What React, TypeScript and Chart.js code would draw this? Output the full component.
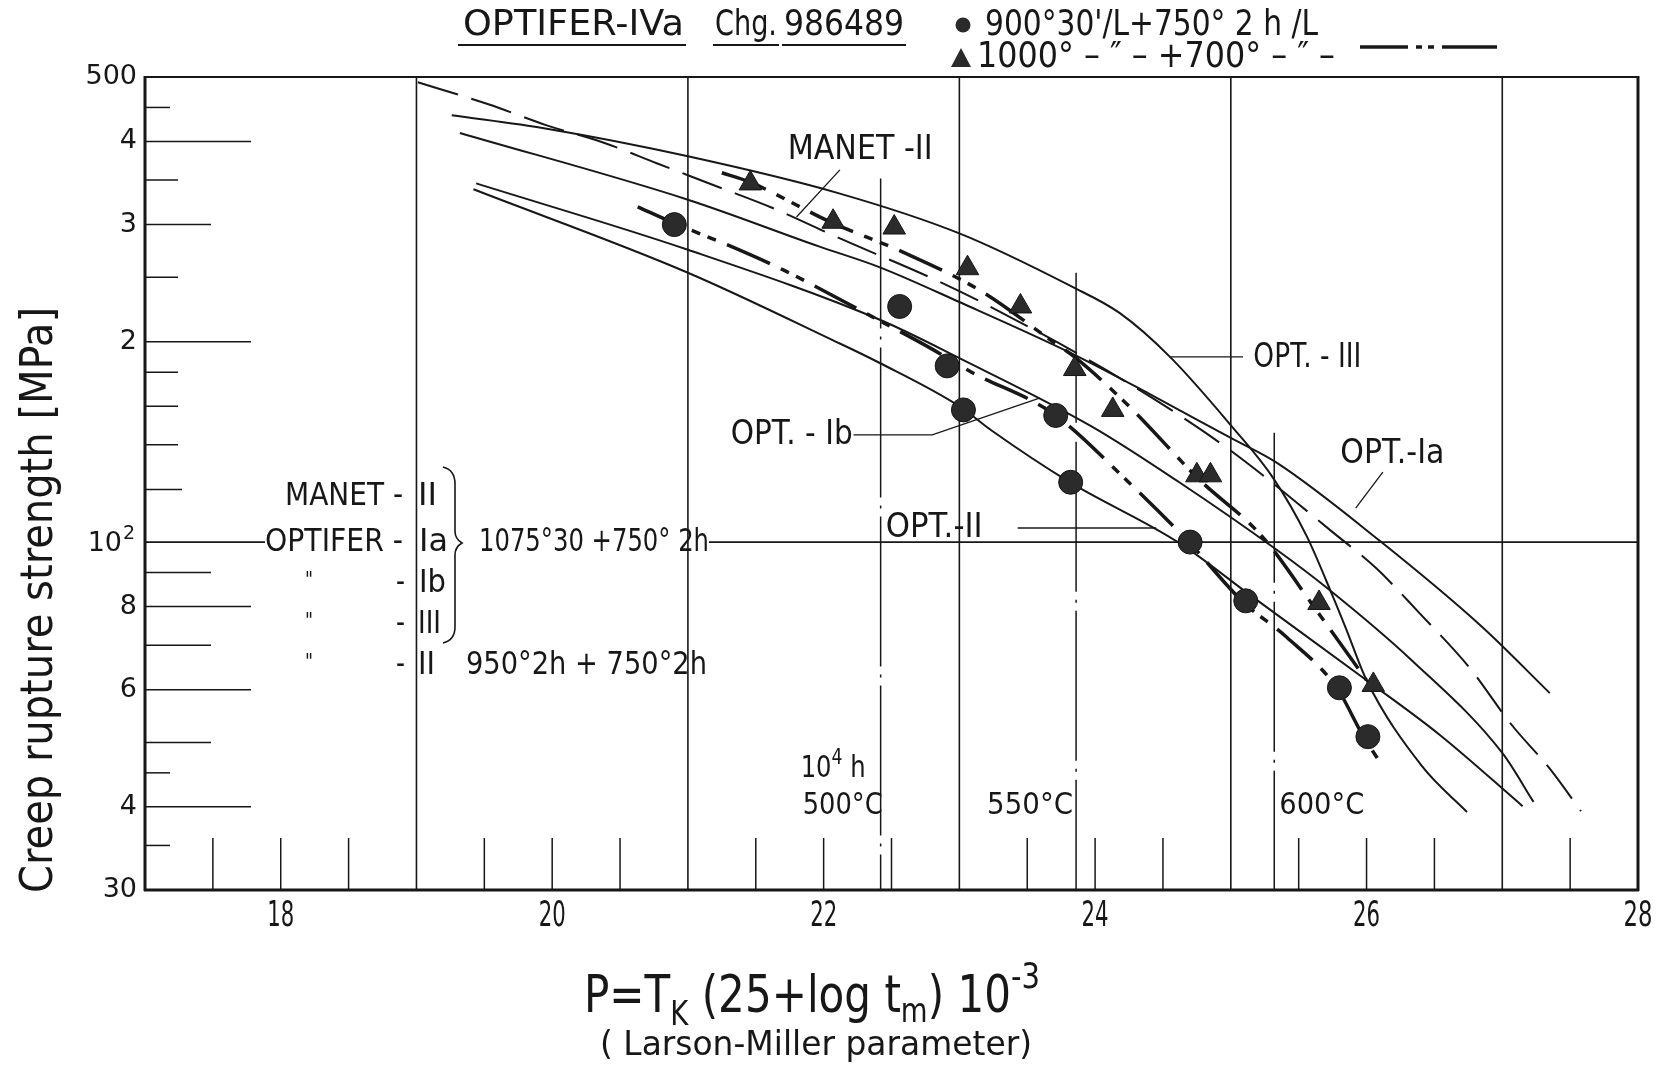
import React, { useEffect, useRef } from "react";
import { Chart, registerables } from "chart.js";

Chart.register(...registerables);

// Larson-Miller parameter P = T_K (25 + log t_m) 10^-3  vs. creep rupture strength (MPa)
const pLimits = [17, 28];
const sLimits = [30, 500];
const pLabelValues = [18, 20, 22, 24, 26, 28];
const pGridValues = [19, 21, 23, 25, 27];
const pMinorTickValues = [17.5, 18, 18.5, 19.5, 20, 20.5, 21.5, 22, 22.5, 23.5, 24, 24.5, 25.5, 26, 26.5, 27.5];
const sLabelValues = [500, 400, 300, 200, 100, 80, 60, 40, 30];
const sLabelTexts = ["500", "4", "3", "2", "10", "8", "6", "4", "30"];
const sTickValues = [450, 400, 350, 300, 250, 200, 180, 160, 140, 120, 90, 80, 70, 60, 50, 45, 40, 35];
const sLongTickValues = [400, 200, 80, 60, 40];
const sMidTickValues = [300, 90, 70, 50];
const sTinyTickValues = [450, 45, 35];

// Reference curves (1075°30' + 750° 2h, and 950° 2h + 750° 2h)
const manetP = [19.01, 19.53, 19.96, 20.37, 20.77, 21.22, 21.62, 22.12, 22.82, 23.17, 24.09, 24.75, 25.12, 25.75, 26.07, 26.39, 26.76, 27.07, 27.36, 27.58];
const manetS = [491, 455, 423, 399, 371, 342, 318, 286, 248, 229, 181, 149, 131.5, 103.5, 91.4, 78.2, 64.7, 53.1, 45.4, 39.4];

const optIaP = [19.32, 21.0, 21.97, 22.41, 23.0, 23.83, 24.4, 25.01, 25.34, 26.09, 26.85, 27.35];
const optIaS = [412, 327, 278, 259, 229.5, 192, 167, 143, 131.5, 100.7, 74.6, 59.3];

const optIbP = [19.44, 21.0, 22.41, 23.0, 23.98, 24.62, 25.34, 25.7, 26.33, 27.0, 27.23];
const optIbS = [346, 275, 216, 189, 149, 123, 97.3, 85.6, 66.5, 48.2, 40.7];

const optIIP = [19.42, 21.0, 22.07, 22.41, 23.0, 23.24, 23.8, 24.62, 25.14, 26.0, 26.54, 27.15];
const optIIS = [339, 254, 201, 186, 160, 147, 123.5, 99.7, 83.3, 62, 51.3, 40.1];

const optIIIP = [19.26, 19.96, 21.0, 22.12, 23.0, 23.83, 24.18, 24.55, 25.01, 25.31, 25.56, 25.75, 25.85, 26.0, 26.41, 26.74];
const optIIIS = [438, 418, 380, 334, 291, 242, 221, 190, 149, 125, 102, 83, 74, 62, 46, 39.3];

// OPTIFER-IVa, Chg. 986489: measured points and their fitted curves
const circleP = [20.9, 22.56, 22.91, 23.03, 23.71, 23.82, 24.7, 25.11, 25.8, 26.01];
const circleS = [300, 226, 184, 158, 155, 123, 100, 81.6, 60.4, 51];
const triangleP = [21.46, 22.07, 22.52, 23.06, 23.45, 23.85, 24.13, 24.75, 24.85, 25.65, 26.05];
const triangleS = [346, 303, 297, 258, 226, 182, 158, 126, 126, 81, 61];

const circleFitP = [20.63, 20.89, 21.34, 21.71, 22.36, 22.78, 23.09, 23.69, 24.23, 24.69, 25.09, 25.41, 25.78, 25.98, 26.09];
const circleFitS = [319, 302, 277, 256, 218, 196, 180, 156, 124, 100, 81.3, 72, 60.4, 50.9, 47];
const triangleFitP = [21.25, 21.45, 22.06, 22.58, 23.15, 23.69, 23.86, 24.25, 24.77, 25.23, 25.63, 26.0];
const triangleFitS = [359, 348, 302, 273, 239, 200, 189, 160, 124, 102, 79, 62];

// 10^4 h isotherms
const isothermP = [22.42, 23.86, 25.32];
const isothermTopS = [352, 254, 146];
const isothermTexts = ["500°C", "550°C", "600°C"];

// curve labels and their leader lines
const curveLabelTexts = ["MANET -II", "OPT. - III", "OPT.-Ia", "OPT. - Ib", "OPT.-II"];
const curveLabelP = [21.735, 25.166, 25.807, 21.315, 22.457];
const curveLabelS = [388.5, 189, 135.6, 144.9, 105];
const leaderManetP = [22.12, 21.8];
const leaderManetS = [362.5, 308];
const leaderIIIP = [24.55, 25.09];
const leaderIIIS = [189.8, 189.8];
const leaderIaP = [26.12, 25.92];
const leaderIaS = [127.4, 112.5];
const leaderIbP = [22.22, 22.8, 23.59];
const leaderIbS = [144.9, 144.9, 164.6];
const leaderIIP = [23.43, 24.45];
const leaderIIS = [105, 105];

const INK = "#171717";
const FONT = '"DejaVu Sans", sans-serif';
const IVA_DASH = [47, 12, 9, 8, 9, 12];

const pts = (xs: number[], ys: number[]) => xs.map((x, i) => ({ x, y: ys[i] }));

function fitText(ctx: any, text: string, left: number, cy: number, width: number, size: number) {
  ctx.save();
  ctx.font = `${size}px ${FONT}`;
  ctx.textBaseline = "middle";
  ctx.textAlign = "left";
  const w = ctx.measureText(text).width;
  ctx.translate(left, cy);
  ctx.scale(width / w, 1);
  ctx.fillText(text, 0, 0);
  ctx.restore();
}

function runText(ctx: any, runs: { text: string; size: number; dy?: number }[], left: number, baseline: number, width: number) {
  ctx.save();
  ctx.textBaseline = "alphabetic";
  ctx.textAlign = "left";
  let total = 0;
  const ws = runs.map((r) => {
    ctx.font = `${r.size}px ${FONT}`;
    const w = ctx.measureText(r.text).width;
    total += w;
    return w;
  });
  ctx.translate(left, baseline);
  ctx.scale(width / total, 1);
  let x = 0;
  runs.forEach((r, i) => {
    ctx.font = `${r.size}px ${FONT}`;
    ctx.fillText(r.text, x, r.dy || 0);
    x += ws[i];
  });
  ctx.restore();
}

function seg(ctx: any, x1: number, y1: number, x2: number, y2: number) {
  ctx.beginPath();
  ctx.moveTo(x1, y1);
  ctx.lineTo(x2, y2);
  ctx.stroke();
}

const paperPlugin = {
  id: "paper",
  beforeDatasetsDraw(chart: any) {
    const { ctx, chartArea: a, scales } = chart;
    const xs = scales.x;
    const ys = scales.y;
    ctx.save();
    ctx.strokeStyle = INK;
    ctx.lineCap = "butt";

    // full-height grid lines at odd P values
    ctx.lineWidth = 1.6;
    pGridValues.forEach((p) => {
      const px = xs.getPixelForValue(p);
      seg(ctx, px, a.top, px, a.bottom);
    });

    // 100 MPa line, interrupted by the material legend
    const y100 = ys.getPixelForValue(100);
    seg(ctx, a.left, y100, 265, y100);
    seg(ctx, 709, y100, a.right, y100);

    // stress ticks along the left edge
    ctx.lineWidth = 1.5;
    sTickValues.forEach((s) => {
      const py = ys.getPixelForValue(s);
      let len = 33;
      if (sLongTickValues.includes(s)) len = 106;
      else if (sMidTickValues.includes(s)) len = 66;
      else if (sTinyTickValues.includes(s)) len = 25;
      else if (s === 120) len = 37;
      seg(ctx, a.left, py, a.left + len, py);
    });

    // parameter ticks along the bottom edge
    pMinorTickValues.forEach((p) => {
      const px = xs.getPixelForValue(p);
      seg(ctx, px, a.bottom, px, a.bottom - 52);
    });

    // frame
    ctx.lineWidth = 2;
    seg(ctx, a.left, a.top, a.right, a.top);
    ctx.lineWidth = 3;
    seg(ctx, a.left, a.top - 1, a.left, a.bottom + 1);
    seg(ctx, a.left - 1, a.bottom, a.right + 1, a.bottom);
    seg(ctx, a.right, a.top - 1, a.right, a.bottom + 1);
    ctx.restore();
  },
  afterDatasetsDraw(chart: any) {
    const { ctx, scales } = chart;
    const xs = scales.x;
    const ys = scales.y;
    ctx.save();
    ctx.fillStyle = INK;
    ctx.strokeStyle = INK;

    // stress tick labels
    ctx.font = `27px ${FONT}`;
    ctx.textAlign = "right";
    ctx.textBaseline = "middle";
    sLabelValues.forEach((s, i) => {
      const py = ys.getPixelForValue(s);
      if (s === 100) {
        ctx.fillText(sLabelTexts[i], 122, py + 2);
        ctx.font = `19px ${FONT}`;
        ctx.textAlign = "left";
        ctx.fillText("2", 123, py - 8);
        ctx.font = `27px ${FONT}`;
        ctx.textAlign = "right";
      } else {
        ctx.fillText(sLabelTexts[i], 137, py);
      }
    });

    // parameter tick labels
    pLabelValues.forEach((p) => {
      const px = xs.getPixelForValue(p);
      const w = p === 28 ? 29 : 27;
      fitText(ctx, String(p), px - w / 2, 917, w, 36);
    });

    // axis titles
    ctx.save();
    ctx.translate(52, 893);
    ctx.rotate(-Math.PI / 2);
    ctx.font = `45px ${FONT}`;
    ctx.textAlign = "left";
    ctx.textBaseline = "alphabetic";
    const yTitle = "Creep rupture strength [MPa]";
    const yw = ctx.measureText(yTitle).width;
    ctx.scale(586 / yw, 1);
    ctx.fillText(yTitle, 0, 0);
    ctx.restore();

    runText(
      ctx,
      [
        { text: "P=T", size: 52 },
        { text: "K", size: 34, dy: 13 },
        { text: " (25+log t", size: 52 },
        { text: "m", size: 34, dy: 10 },
        { text: ") 10", size: 52 },
        { text: "-3", size: 36, dy: -24 },
      ],
      584,
      1012,
      456
    );
    fitText(ctx, "( Larson-Miller parameter)", 600, 1046, 432, 33);

    // heading and symbol legend
    fitText(ctx, "OPTIFER-IVa", 463, 26, 221, 35);
    fitText(ctx, "Chg.", 715, 26, 62, 35);
    fitText(ctx, "986489", 784, 26, 120, 35);
    ctx.lineWidth = 2;
    seg(ctx, 458, 45, 686, 45);
    seg(ctx, 713, 45, 779, 45);
    seg(ctx, 782, 45, 906, 45);

    ctx.fillStyle = "#2a2a2a";
    ctx.beginPath();
    ctx.arc(963, 25, 7.5, 0, Math.PI * 2);
    ctx.fill();
    ctx.beginPath();
    ctx.moveTo(961, 48);
    ctx.lineTo(971, 67);
    ctx.lineTo(951, 67);
    ctx.closePath();
    ctx.fill();
    ctx.fillStyle = INK;
    fitText(ctx, "900°30'/L+750° 2 h /L", 985, 26, 333, 35);
    fitText(ctx, "1000° – ″ – +700° – ″ –", 977, 58, 358, 35);
    ctx.lineWidth = 3.5;
    seg(ctx, 1360, 47, 1408, 47);
    seg(ctx, 1416, 47, 1422, 47);
    seg(ctx, 1428, 47, 1434, 47);
    seg(ctx, 1442, 47, 1497, 47);

    // material legend on the left
    const rows = [497, 543, 584, 625, 666];
    fitText(ctx, "MANET -", 285, rows[0], 118, 32);
    fitText(ctx, "OPTIFER -", 265, rows[1], 138, 32);
    [2, 3, 4].forEach((r) => {
      fitText(ctx, "\"", 305, rows[r] - 3, 8, 22);
      fitText(ctx, "-", 396, rows[r], 9, 32);
    });
    fitText(ctx, "II", 418, rows[0], 19, 32);
    fitText(ctx, "Ia", 419, rows[1], 29, 32);
    fitText(ctx, "Ib", 419, rows[2], 27, 32);
    fitText(ctx, "III", 418, rows[3], 23, 32);
    fitText(ctx, "II", 418, rows[4], 17, 32);
    fitText(ctx, "1075°30 +750° 2h", 479, rows[1], 230, 32);
    fitText(ctx, "950°2h + 750°2h", 466, rows[4], 241, 32);
    ctx.lineWidth = 1.6;
    ctx.beginPath();
    ctx.moveTo(443, 467);
    ctx.quadraticCurveTo(455, 470, 455, 484);
    ctx.lineTo(455, 531);
    ctx.quadraticCurveTo(455, 539, 462, 543);
    ctx.quadraticCurveTo(455, 547, 455, 555);
    ctx.lineTo(455, 627);
    ctx.quadraticCurveTo(455, 640, 443, 643);
    ctx.stroke();

    // isotherm labels
    const px500 = xs.getPixelForValue(isothermP[0]);
    runText(
      ctx,
      [
        { text: "10", size: 31 },
        { text: "4", size: 22, dy: -13 },
        { text: " h", size: 31 },
      ],
      px500 - 80,
      777,
      65
    );
    fitText(ctx, isothermTexts[0], px500 - 78, 806, 80, 31);
    fitText(ctx, isothermTexts[1], xs.getPixelForValue(isothermP[1]) - 89, 806, 86, 31);
    fitText(ctx, isothermTexts[2], xs.getPixelForValue(isothermP[2]) + 5, 806, 85, 31);

    // curve labels
    const labelWidths = [145, 108, 104, 122, 97];
    curveLabelTexts.forEach((t, i) => {
      fitText(ctx, t, xs.getPixelForValue(curveLabelP[i]), ys.getPixelForValue(curveLabelS[i]), labelWidths[i], 34);
    });
    ctx.restore();
  },
};

const curve = (data: any, dash: number[] = [], width = 2, order = 2) => ({
  data,
  borderColor: INK,
  borderWidth: width,
  borderDash: dash,
  pointRadius: 0,
  fill: false,
  cubicInterpolationMode: "monotone",
  order,
});

const leader = (data: any) => ({
  data,
  borderColor: INK,
  borderWidth: 1.3,
  pointRadius: 0,
  tension: 0,
  fill: false,
  order: 3,
});

export default function App() {
  const ref = useRef<HTMLCanvasElement>(null);

  useEffect(() => {
    document.body.style.margin = "0";
    const isotherms = isothermP.map((p, i) => ({
      data: [
        { x: p, y: isothermTopS[i] },
        { x: p, y: sLimits[0] },
      ],
      borderColor: INK,
      borderWidth: 1.5,
      borderDash: [150, 8, 3, 8],
      pointRadius: 0,
      tension: 0,
      fill: false,
      order: 4,
    }));

    const chart = new Chart(ref.current as HTMLCanvasElement, {
      type: "line",
      data: {
        datasets: [
          {
            data: pts(circleP, circleS),
            showLine: false,
            pointStyle: "circle",
            pointRadius: 12,
            backgroundColor: "#2b2b2b",
            borderColor: "#141414",
            borderWidth: 1,
            order: 0,
          },
          {
            data: pts(triangleP, triangleS),
            showLine: false,
            pointStyle: "triangle",
            pointRadius: 13,
            backgroundColor: "#2b2b2b",
            borderColor: "#141414",
            borderWidth: 1,
            order: 0,
          },
          curve(pts(manetP, manetS), [42, 14], 2),
          curve(pts(optIaP, optIaS)),
          curve(pts(optIbP, optIbS)),
          curve(pts(optIIP, optIIS)),
          curve(pts(optIIIP, optIIIS)),
          curve(pts(circleFitP, circleFitS), IVA_DASH, 3.5, 1),
          curve(pts(triangleFitP, triangleFitS), IVA_DASH, 3.5, 1),
          leader(pts(leaderManetP, leaderManetS)),
          leader(pts(leaderIIIP, leaderIIIS)),
          leader(pts(leaderIaP, leaderIaS)),
          leader(pts(leaderIbP, leaderIbS)),
          leader(pts(leaderIIP, leaderIIS)),
          ...isotherms,
        ] as any,
      },
      options: {
        animation: false,
        responsive: false,
        maintainAspectRatio: false,
        devicePixelRatio: 1,
        layout: { padding: { left: 145, top: 77, right: 24, bottom: 179 } },
        scales: {
          x: { type: "linear", min: pLimits[0], max: pLimits[1], display: false },
          y: { type: "logarithmic", min: sLimits[0], max: sLimits[1], display: false },
        },
        plugins: { legend: { display: false }, tooltip: { enabled: false } },
        events: [],
      } as any,
      plugins: [paperPlugin],
    });
    return () => chart.destroy();
  }, []);

  return (
    <div style={{ background: "#fff" }}>
      <canvas ref={ref} width={1662} height={1069} style={{ display: "block", width: 1662, height: 1069 }} />
    </div>
  );
}
